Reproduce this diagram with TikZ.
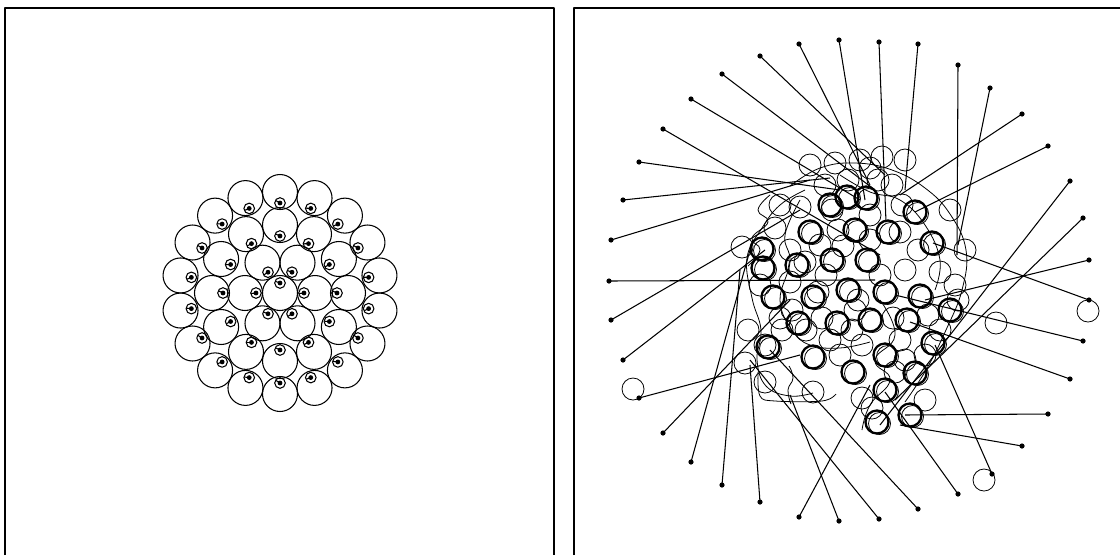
\documentclass[tikz,border=0pt]{standalone}
\usetikzlibrary{calc}
\tikzset{
  wire/.style={line width=0.6pt},
  agent/.style={line width=1.3pt},
  trail/.style={line width=0.45pt},
}
\begin{document}
\begin{tikzpicture}[x=0.02cm, y=-0.02cm, line join=round]
\useasboundingbox (0,0) rectangle (1120,555);
% frames
\draw[wire] (5,555) -- (5,8) -- (554,8) -- (554,555);
\draw[wire] (574,555) -- (574,8) -- (1120,8);
% left: packed start, three rings round one
\coordinate (mid) at (280,293);
\draw[wire] (mid) circle (17.5);
\coordinate (core) at ($(mid)+(0,-10)$);
\draw[wire] (core) circle (5.3);
\fill (core) circle (2.4);
\draw[wire] (core) -- ++(200:4.8);
\foreach \rr/\nn/\oo in {35/6/0,68/12/0,101/18/10}{
  \foreach \k in {1,...,\nn}{
    \pgfmathsetmacro\aa{\oo+360*\k/\nn}
    \pgfmathsetmacro\ss{\rr-11}
    \pgfmathsetmacro\tt{140+mod(53*\k+\rr,80)}
    \coordinate (body) at ($(mid)+(\aa:\rr)$);
    \coordinate (eye) at ($(mid)+(\aa:\ss)$);
    \draw[wire] (body) circle (17.5);
    \draw[wire] (eye) circle (5.3);
    \fill (eye) circle (2.4);
    \draw[wire] (eye) -- ++(\tt:4.8);
  }
}
% right: goals on the ring, tied to where each one is now
\foreach \gx/\gy/\px/\py in {
  799/44/870/185, 839/40/865/200, 879/42/886/222, 918/44/905/190,
  958/65/957/255, 990/88/958/245, 1022/114/900/195, 1048/146/915/212,
  1070/181/880/425, 1083/218/895/400, 1089/260/925/300, 1089/300/933/243,
  1083/341/895/295, 1070/379/910/322, 1048/414/905/415, 1022/446/900/425,
  992/474/935/345, 958/494/885/392, 918/509/770/350, 879/519/750/360,
  839/521/790/395, 799/517/870/385, 760/502/750/365, 722/485/740/270,
  691/462/750/250, 663/433/790/300, 639/398/800/355, 623/360/765/250,
  611/320/800/210, 609/281/875/280, 611/240/810/180, 623/200/830/178,
  639/162/840/190, 663/129/880/255, 691/99/860/200, 722/74/875/190,
  760/56/885/175}{
  \coordinate (goal) at (\gx,\gy);
  \coordinate (pos) at (\px,\py);
  \draw[wire] (goal) -- (pos);
  \fill (goal) circle (2.6);
}
% trails
\foreach \x/\y in {810/165,835/163,860/160,882/157,905/160,825/185,
  848/180,892/185,780/205,800/207,870/215,900/232,950/210,
  965/250,958/300,996/323,1088/311,984/480,633/389,742/247,
  765/382,813/392,745/363,748/330,790/250,775/228,820/245,
  880/275,905/270,940/272,840/355,862/345,900/340,925/400,
  765/345,782/330,830/340,855/310,822/318,760/285,790/282,
  940/330,870/240,843/246,905/360,862/398,895/372,955/285,
  870/168,832/210,902/205,918/250,805/262,818/292,
  858/300,780/318,852/330,893/318,806/330,928/315,
  878/180,838/230,925/355,872/408,792/310,826/275}{
  \draw[trail] (\x,\y) circle (11);
}
\draw[trail] plot[smooth,tension=0.7] coordinates {(805,190) (780,205) (762,228)
  (747,258) (752,298) (761,330) (757,360) (766,386) (790,396) (813,393)};
\draw[trail] plot[smooth,tension=0.7] coordinates {(790,186) (820,168) (855,163)
  (892,170) (925,188) (950,214) (966,250) (962,290) (946,330) (926,370) (905,402)};
\draw[trail] plot[smooth,tension=0.6] coordinates {(758,372) (760,396) (775,401)
  (822,401) (836,394)};
\draw[trail] plot[smooth,tension=0.8] coordinates {(789,366) (793,378) (788,390)
  (791,404)};
\draw[trail] plot[smooth,tension=0.7] coordinates {(800,200) (785,235) (790,262)
  (780,300) (792,330) (810,345) (840,348) (870,342)};
\draw[trail] plot[smooth,tension=0.7] coordinates {(840,175) (870,192) (900,200)
  (925,225) (940,260) (935,290)};
\draw[trail] plot[smooth,tension=0.8] coordinates {(770,195) (758,210) (768,222)
  (752,238) (760,250) (748,266)};
\draw[trail] plot[smooth,tension=0.8] coordinates {(880,300) (895,335) (875,360)
  (890,380) (870,405) (862,430)};
% where they are now
\foreach \x/\y in {830/205,866/198,888/232,915/212,932/243,855/230,
  810/232,763/268,797/265,832/260,867/260,773/297,813/297,
  848/290,885/292,920/296,768/347,798/323,837/323,870/320,
  907/320,950/310,933/343,885/355,813/357,853/372,915/373,
  885/390,877/422,910/415,847/197,762/249}{
  \draw[agent] (\x,\y) circle (11.5);
  \draw[trail] (\x+2.5,\y+1.5) circle (11);
}
\end{tikzpicture}
\end{document}
